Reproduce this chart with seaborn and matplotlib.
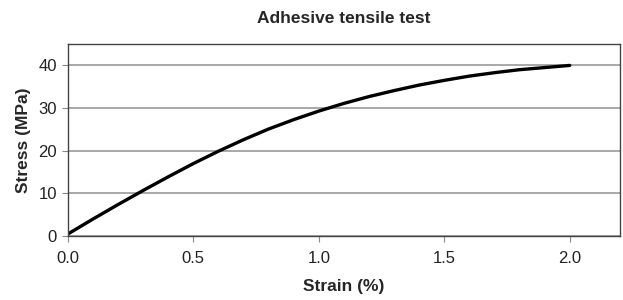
import matplotlib
matplotlib.use("Agg")
import matplotlib.pyplot as plt
import seaborn as sns
import pandas as pd

# Data
strain = [0.0, 0.1, 0.2, 0.3, 0.4, 0.5, 0.6, 0.7, 0.8, 0.9, 1.0,
          1.1, 1.2, 1.3, 1.4, 1.5, 1.6, 1.7, 1.8, 1.9, 2.0]
stress = [0.5, 4.0, 7.4, 10.7, 13.9, 17.0, 19.9, 22.6, 25.1, 27.3, 29.3,
          31.1, 32.7, 34.1, 35.4, 36.5, 37.5, 38.3, 39.0, 39.5, 40.0]
x_ticks = [0.0, 0.5, 1.0, 1.5, 2.0]
y_ticks = [0, 10, 20, 30, 40]

df = pd.DataFrame({"strain": strain, "stress": stress})

sns.set_theme(style="white")
plt.rcParams['font.family'] = ['Liberation Sans', 'DejaVu Sans']

fig = plt.figure(figsize=(6.23, 3.0), dpi=100)
ax = fig.add_axes([0.109, 0.213, 0.886, 0.64])

sns.lineplot(data=df, x="strain", y="stress", color="black", linewidth=2.4, ax=ax)

ax.set_xlim(0, 2.2)
ax.set_ylim(0, 45)
ax.set_xticks(x_ticks)
ax.set_xticklabels([f"{t:.1f}" for t in x_ticks])
ax.set_yticks(y_ticks)
ax.yaxis.grid(True, color="#999999", linewidth=1.2)
ax.set_axisbelow(True)

for s in ax.spines.values():
    s.set_color("#444444")
    s.set_linewidth(1.0)

ax.tick_params(axis="both", which="both", direction="out", length=4, width=0.8,
               color="#888888", labelsize=12, labelcolor="#222222",
               bottom=True, left=True)
ax.tick_params(axis="x", pad=7)
ax.tick_params(axis="y", pad=4)

ax.set_xlabel("Strain (%)", fontsize=12.5, fontweight="bold", labelpad=9)
ax.set_ylabel("Stress (MPa)", fontsize=12.5, fontweight="bold", labelpad=5)
ax.set_title("Adhesive tensile test", fontsize=12.5, fontweight="bold", pad=15)

fig.savefig("out.png", dpi=100)
